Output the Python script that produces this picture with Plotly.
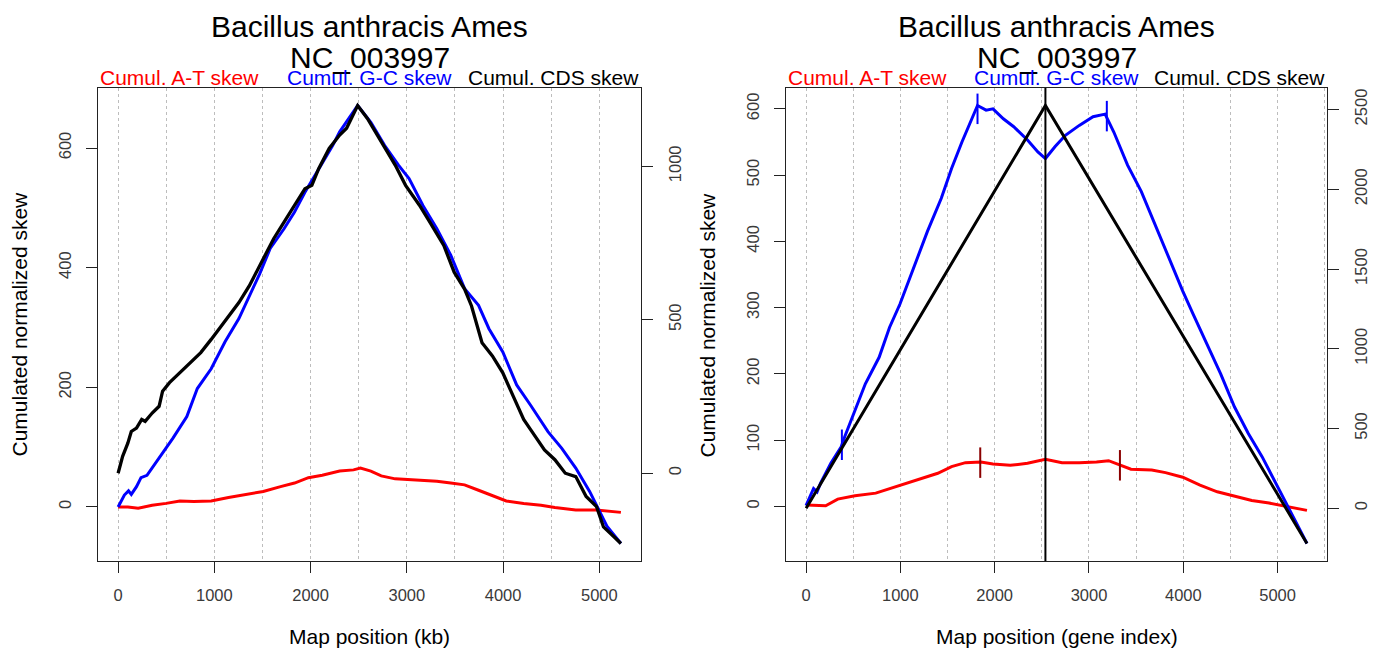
import plotly.graph_objects as go

W, H = 1385, 654

# ---------------- Left panel : map position (kb) ----------------
kb_gc = [0, 65, 108, 137, 191, 238, 300, 426, 570, 714, 823, 967, 1111, 1255, 1364, 1472, 1580, 1724,
         1833, 1941, 2085, 2229, 2302, 2410, 2489, 2626, 2770, 2915, 3023, 3167, 3312, 3456, 3600, 3745,
         3853, 3997, 4141, 4286, 4466, 4610, 4755, 4899, 5007, 5079, 5224]
gc_kb = [0, 20, 27, 21, 34, 49, 53, 81, 115, 151, 198, 231, 276, 315, 354, 390, 432, 465,
         493, 526, 565, 604, 627, 652, 671, 643, 604, 571, 549, 504, 465, 421, 365, 337,
         298, 259, 204, 170, 126, 98, 65, 26, -8, -32, -61]

kb_at = [0, 101, 209, 354, 498, 642, 786, 967, 1147, 1327, 1508, 1688, 1833, 1977, 2121, 2302, 2446,
         2518, 2626, 2734, 2879, 3095, 3312, 3456, 3600, 3745, 3889, 4033, 4214, 4394, 4538, 4755,
         4971, 5224]
at_kb = [0, 0, -2, 3, 6, 10, 9, 10, 16, 21, 26, 34, 40, 49, 53, 60, 62,
         65, 60, 52, 47, 45, 43, 40, 37, 28, 19, 10, 6, 3, -1, -5,
         -5, -9]

kb_cds = [0, 47, 101, 137, 191, 245, 281, 354, 426, 462, 534, 642, 750, 859, 967, 1075, 1147, 1255,
          1364, 1436, 1508, 1616, 1724, 1833, 1941, 2013, 2085, 2193, 2302, 2374, 2446, 2489, 2590,
          2734, 2879, 2987, 3131, 3239, 3384, 3492, 3600, 3672, 3781, 3889, 3997, 4105, 4214, 4286,
          4430, 4538, 4646, 4755, 4863, 4971, 5043, 5152, 5224]
cds_kb = [0, 55, 98, 136, 147, 175, 169, 196, 218, 267, 295, 327, 360, 393, 436, 480, 513, 556,
          611, 655, 698, 764, 818, 873, 927, 938, 993, 1058, 1102, 1124, 1167, 1198, 1156,
          1080, 1004, 938, 873, 818, 742, 655, 600, 545, 425, 382, 327, 251, 175, 142,
          76, 44, 0, -11, -76, -109, -175, -207, -229]

# ---------------- Right panel : gene index ----------------
gi_gc = [0, 44, 80, 117, 154, 263, 373, 410, 519, 629, 775, 885, 995, 1141, 1287, 1434, 1543, 1653,
         1763, 1818, 1909, 1982, 2092, 2202, 2348, 2458, 2538, 2641, 2750, 2897, 3043, 3171, 3263,
         3409, 3555, 3701, 3848, 3994, 4104, 4250, 4396, 4543, 4689, 4835, 4982, 5091, 5201, 5311]
gc_gi = [1, 15, 27, 22, 35, 65, 90, 105, 145, 185, 225, 270, 305, 360, 415, 465, 510, 550,
         585, 605, 598, 600, 585, 573, 553, 535, 525, 543, 560, 575, 588, 592, 565,
         515, 475, 425, 375, 325, 290, 245, 200, 150, 110, 75, 35, 5, -25, -56]

gi_at = [0, 117, 208, 336, 519, 739, 958, 1178, 1397, 1543, 1690, 1854, 1982, 2165, 2348, 2538, 2714,
         2897, 3080, 3208, 3336, 3445, 3665, 3811, 3994, 4177, 4360, 4543, 4726, 4909, 5091, 5311]
at_gi = [2, 2, 1, 11, 16, 20, 30, 40, 50, 60, 66, 67, 64, 62, 65, 71, 66,
         66, 67, 69, 62, 56, 55, 51, 44, 32, 22, 15, 9, 5, 0, -6]

gi_cds = [1, 2538, 5311]
cds_gi = [0, 2525, -221]

ori_gene = 2538          # vertical marker (gene index)
gc_mark_gene = [380, 1818, 3189]
gc_mark_val = [93, 600, 589]
at_mark_gene = [1847, 3328]
at_mark_val = [66, 62]

x_ticks = [0, 1000, 2000, 3000, 4000, 5000]
y_ticks_left = [0, 200, 400, 600]
y2_ticks_left = [0, 500, 1000]
y_ticks_right = [0, 100, 200, 300, 400, 500, 600]
y2_ticks_right = [0, 500, 1000, 1500, 2000, 2500]

title1 = "Bacillus anthracis Ames"
title2 = "NC_003997"
leg = ["Cumul. A-T skew", "Cumul. G-C skew", "Cumul. CDS skew"]

# ---------------- styling ----------------
FONT = "Liberation Sans"
RED, BLUE, BLACK, DARKRED = "#FF0000", "#0000FF", "#000000", "#8B0000"
LW = 3.0
MARK_HALF = 23


def rrange(*series):
    vals = [v for s in series for v in s]
    lo, hi = min(vals), max(vals)
    pad = 0.04 * (hi - lo)
    return [lo - pad, hi + pad]


def marks(xs, ys, half):
    mx, my = [], []
    for x, y in zip(xs, ys):
        mx += [x, x, None]
        my += [y - half, y + half, None]
    return mx, my


fig = go.Figure()

# left panel traces
fig.add_trace(go.Scatter(x=kb_at, y=at_kb, mode="lines", line=dict(color=RED, width=LW),
                         xaxis="x", yaxis="y", showlegend=False))
fig.add_trace(go.Scatter(x=kb_gc, y=gc_kb, mode="lines", line=dict(color=BLUE, width=LW),
                         xaxis="x", yaxis="y", showlegend=False))
fig.add_trace(go.Scatter(x=kb_cds, y=cds_kb, mode="lines", line=dict(color=BLACK, width=LW + 0.3),
                         xaxis="x", yaxis="y2", showlegend=False))

# right panel traces
fig.add_trace(go.Scatter(x=gi_at, y=at_gi, mode="lines", line=dict(color=RED, width=LW),
                         xaxis="x2", yaxis="y3", showlegend=False))
fig.add_trace(go.Scatter(x=gi_gc, y=gc_gi, mode="lines", line=dict(color=BLUE, width=LW),
                         xaxis="x2", yaxis="y3", showlegend=False))
mx, my = marks(gc_mark_gene, gc_mark_val, MARK_HALF)
fig.add_trace(go.Scatter(x=mx, y=my, mode="lines", line=dict(color=BLUE, width=2),
                         xaxis="x2", yaxis="y3", showlegend=False))
mx, my = marks(at_mark_gene, at_mark_val, MARK_HALF)
fig.add_trace(go.Scatter(x=mx, y=my, mode="lines", line=dict(color=DARKRED, width=2),
                         xaxis="x2", yaxis="y3", showlegend=False))
fig.add_trace(go.Scatter(x=gi_cds, y=cds_gi, mode="lines", line=dict(color=BLACK, width=LW),
                         xaxis="x2", yaxis="y4", showlegend=False))

fig.add_shape(type="line", xref="x2", yref="y3 domain", x0=ori_gene, x1=ori_gene, y0=0, y1=1,
              line=dict(color=BLACK, width=2))

# ---------------- layout ----------------
LX = [98 / W, 641 / W]
RX = [786 / W, 1327 / W]
YD = [1 - 561 / H, 1 - 88 / H]

tickfont = dict(family=FONT, size=16.5, color="#3a3a3a")
box = dict(showline=True, linecolor="#222222", linewidth=1, mirror=True)
xcommon = dict(tickmode="array", tickvals=x_ticks, ticks="outside", ticklen=11, tickwidth=1,
               tickcolor="#222222", tickfont=tickfont, ticklabelstandoff=8,
               showgrid=True, gridcolor="#BDBDBD", griddash="dot", gridwidth=1, zeroline=False,
               minor=dict(dtick=500, tick0=0, showgrid=True, gridcolor="#BDBDBD",
                          griddash="dot", gridwidth=1, ticks=""), **box)
ycommon = dict(ticks="outside", ticklen=11, tickwidth=1, tickcolor="#222222", tickfont=tickfont,
               tickangle=-90, ticklabelstandoff=8, showgrid=False, zeroline=False,
               tickmode="array")

fig.update_layout(
    width=W, height=H, margin=dict(l=0, r=0, t=0, b=0),
    paper_bgcolor="white", plot_bgcolor="white",
    xaxis=dict(domain=LX, anchor="y", range=rrange(kb_gc, kb_at, kb_cds), **xcommon),
    yaxis=dict(domain=YD, anchor="x", range=rrange(gc_kb, at_kb), tickvals=y_ticks_left,
               **ycommon, **box),
    yaxis2=dict(overlaying="y", side="right", anchor="x", range=rrange(cds_kb),
                tickvals=y2_ticks_left, **ycommon),
    xaxis2=dict(domain=RX, anchor="y3", range=rrange(gi_gc, gi_at, gi_cds), **xcommon),
    yaxis3=dict(domain=YD, anchor="x2", range=rrange(gc_gi, at_gi), tickvals=y_ticks_right,
                **ycommon, **box),
    yaxis4=dict(overlaying="y3", side="right", anchor="x2", range=rrange(cds_gi),
                tickvals=y2_ticks_right, **ycommon),
)

ann = []
for dom, xlab in ((LX, "Map position (kb)"), (RX, "Map position (gene index)")):
    cx = (dom[0] + dom[1]) / 2
    ann.append(dict(text=title1, x=cx, y=1 - 26 / H, font=dict(family=FONT, size=30, color="black")))
    ann.append(dict(text=title2, x=cx, y=1 - 57 / H, font=dict(family=FONT, size=30, color="black")))
    ann.append(dict(text=leg[0], x=dom[0], xanchor="left", y=1 - 78 / H,
                    font=dict(family=FONT, size=21, color=RED)))
    ann.append(dict(text=leg[1], x=cx, y=1 - 78 / H, font=dict(family=FONT, size=21, color=BLUE)))
    ann.append(dict(text=leg[2], x=dom[1], xanchor="right", y=1 - 78 / H,
                    font=dict(family=FONT, size=21, color=BLACK)))
    ann.append(dict(text=xlab, x=cx, y=1 - 636 / H, font=dict(family=FONT, size=21, color="black")))
    ann.append(dict(text="Cumulated normalized skew", x=dom[0] - 79 / W, y=(YD[0] + YD[1]) / 2,
                    textangle=-90, font=dict(family=FONT, size=21, color="black")))
for a in ann:
    a.update(xref="paper", yref="paper", showarrow=False)
    a.setdefault("xanchor", "center")
    a["yanchor"] = "middle"
fig.update_layout(annotations=ann)

fig.write_html("out.html", config={"displayModeBar": False},
               post_script="document.body.style.margin='0';")
